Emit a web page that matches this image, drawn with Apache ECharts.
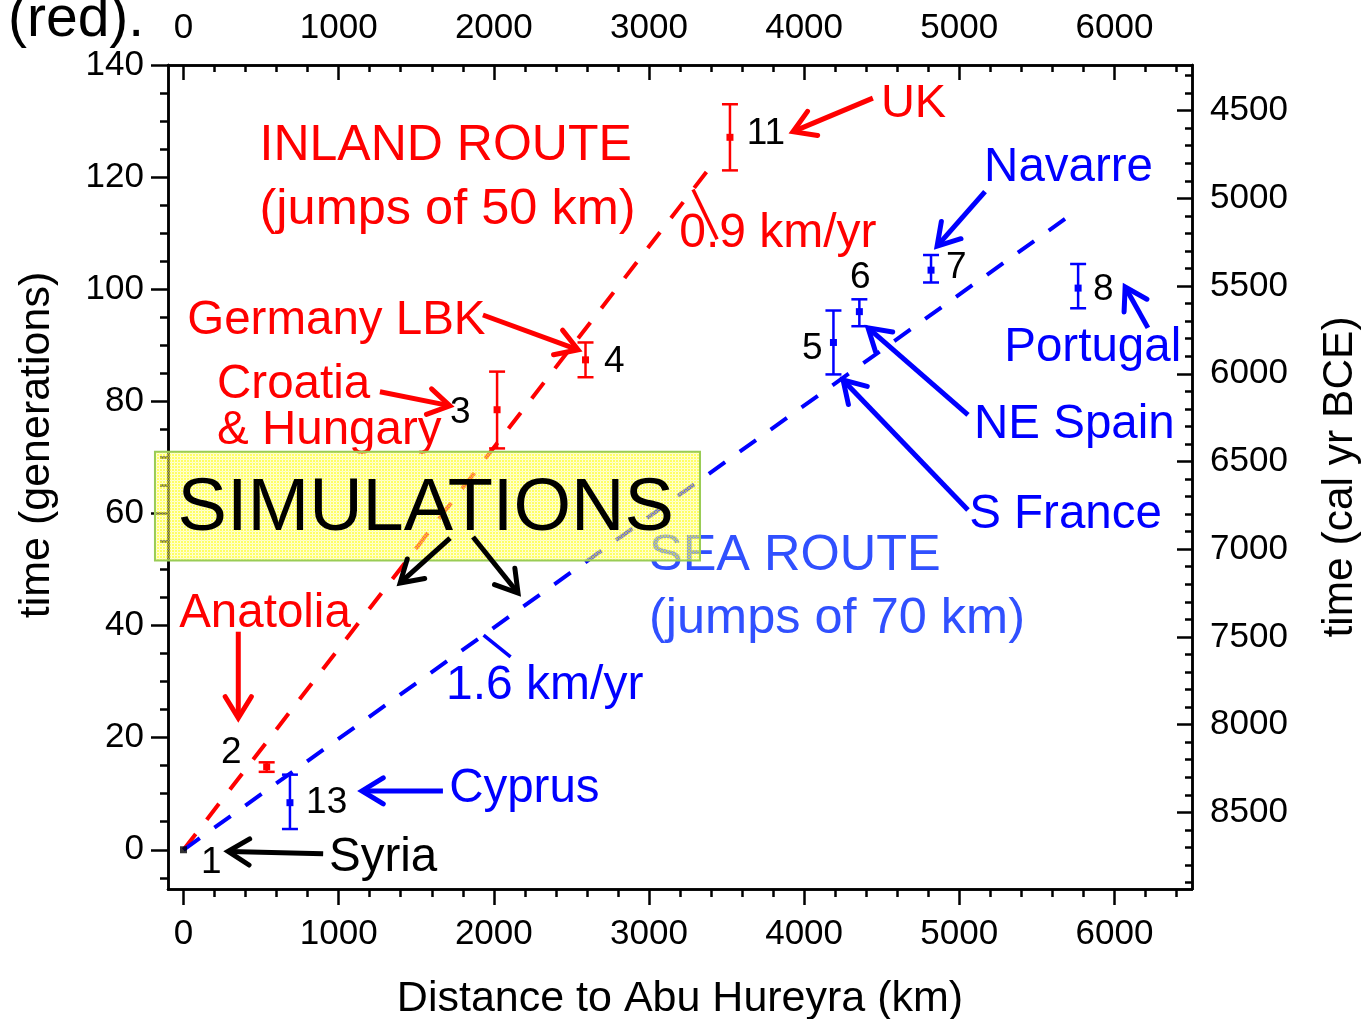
<!DOCTYPE html>
<html><head><meta charset="utf-8">
<script src="https://cdn.jsdelivr.net/npm/echarts@6/dist/echarts.min.js"></script>
<style>html,body{margin:0;padding:0;background:#fff}#c{width:1361px;height:1019px}</style>
</head><body><div id="c"></div>
<script>
const FONT = '"Liberation Sans", Arial, Helvetica, sans-serif';
const RED = '#ff0000', BLUE = '#0000ff', BLACK = '#000000', SEA = '#3050ff';

// axes
const xTickValues = [0, 1000, 2000, 3000, 4000, 5000, 6000];
const yTickValues = [0, 20, 40, 60, 80, 100, 120, 140];
const yearTickValues = [4500, 5000, 5500, 6000, 6500, 7000, 7500, 8000, 8500];
const xMinorValues = [];
for (let v = 0; v <= 6400; v += 200) if (v % 1000) xMinorValues.push(v);
const yMinorValues = [];
for (let v = -5; v <= 135; v += 5) if (v % 20) yMinorValues.push(v);
const yearMinorValues = [];
for (let v = 4300; v <= 8900; v += 100) if (v % 500) yearMinorValues.push(v);

// data: inland route (red) and sea route (blue) sites: [distance km, generations, low, high]
const inlandSites = [
  [536, 14.8, 13.9, 15.6],
  [2021, 78.5, 71.6, 85.3],
  [2591, 87.4, 84.3, 90.5],
  [3522, 127.1, 121.2, 133.0]
];
const seaSites = [
  [686, 8.4, 3.7, 13.4],
  [4189, 90.5, 84.8, 96.2],
  [4356, 96.0, 93.4, 98.2],
  [4818, 103.4, 101.2, 106.1],
  [5766, 100.2, 96.6, 104.5]
];
const originSite = [[0, 0]];
const inlandFit = [[0, 0], [3440, 123.4]];
const seaFit = [[0, 0], [5760, 114.1]];
const inlandSpeedTick = [[3284, 117.8], [3439, 108.9]];
const seaSpeedTick = [[1934, 38.3], [2108, 34.4]];

// annotation arrows: [x1, y1, x2(tip), y2(tip), colour index]
const arrowColors = [RED, BLUE, BLACK];
const arrows = [
  [4443, 134.1, 3928, 128.1, 0],
  [1930, 95.4, 2543, 89.2, 0],
  [1266, 81.7, 1717, 79.2, 0],
  [353, 38.9, 353, 23.5, 0],
  [1672, 10.5, 1150, 10.5, 1],
  [900, -0.7, 287, -0.3, 2],
  [5166, 117.4, 4857, 107.7, 1],
  [6216, 93.1, 6069, 100.4, 1],
  [5056, 77.6, 4412, 93.1, 1],
  [5056, 60.6, 4251, 83.8, 1],
  [1718, 55.6, 1396, 47.6, 2],
  [1866, 55.8, 2156, 45.8, 2]
];

// text annotations
const labelText = ['INLAND ROUTE', '(jumps of 50 km)', '0.9 km/yr', 'UK', '11', 'Germany LBK', '4',
  'Croatia', '& Hungary', '3', 'Anatolia', '2', '13', 'Cyprus', '1', 'Syria', '1.6 km/yr',
  'SEA ROUTE', '(jumps of 70 km)', 'Navarre', '6', '7', '5', '8', 'Portugal', 'NE Spain', 'S France'];
const labelPos = [[490, 126.1], [490, 114.6], [3195, 110.4], [4495, 133.6], [3630, 128.2], [24, 94.9], [2710, 87.6],
  [216, 83.5], [216, 75.3], [1718, 78.5], [-28, 42.6], [242, 17.8], [790, 8.9], [1712, 11.4], [113, -1.8], [938, -0.9], [1692, 29.8],
  [3000, 53.0], [3000, 41.6], [5160, 122.2], [4296, 102.5], [4915, 104.3], [3987, 89.9], [5862, 100.4], [5290, 90.1], [5095, 76.3], [5064, 60.3]];
const labelColor = [RED, RED, RED, RED, BLACK, RED, BLACK, RED, RED, BLACK, RED, BLACK, BLACK, BLUE, BLACK, BLACK, BLUE,
  SEA, SEA, BLUE, BLACK, BLACK, BLACK, BLACK, BLUE, BLUE, BLUE];
const labelSize = [50, 50.5, 48, 47, 37, 47.5, 37, 47.5, 47.5, 37, 47.5, 37, 37, 47.5, 37, 47.5, 48, 50.5, 50.5, 47.5, 37, 37, 37, 37, 47.5, 47.5, 47.5];

const simBox = [[-184, 71.0], [3329, 51.6]];
const simText = 'SIMULATIONS';
const simPos = [-38, 61.3];

const chart = echarts.init(document.getElementById('c'), null, {renderer: 'canvas'});

const lineW = 2.5;
const plain = function (v) { return String(v); };
function xAxisDef(position, ticks, len, inside, labels, labelMargin) {
  return {
    type: 'value', position: position, min: -100, max: 6500, offset: 0,
    axisLine: {show: true, onZero: false, lineStyle: {color: BLACK, width: lineW}},
    axisTick: {show: true, inside: inside, length: len, customValues: ticks, lineStyle: {color: BLACK, width: lineW}},
    axisLabel: labels ? {show: true, customValues: ticks, formatter: plain, margin: labelMargin, color: BLACK, fontSize: 35, fontFamily: FONT} : {show: false},
    splitLine: {show: false}
  };
}
function yAxisDef(position, min, max, inverse, ticks, len, inside, labels, labelMargin, extra) {
  return Object.assign({
    type: 'value', position: position, min: min, max: max, inverse: inverse, offset: 0,
    axisLine: {show: true, onZero: false, lineStyle: {color: BLACK, width: lineW}},
    axisTick: {show: true, inside: inside, length: len, customValues: ticks, lineStyle: {color: BLACK, width: lineW}},
    axisLabel: labels ? {show: true, customValues: ticks, formatter: plain, margin: labelMargin, color: BLACK, fontSize: 35, fontFamily: FONT} : {show: false},
    splitLine: {show: false}
  }, extra || {});
}

function errorBarSeries(data, color) {
  return {
    type: 'custom', xAxisIndex: 0, yAxisIndex: 0, z: 4, clip: false,
    data: data,
    renderItem: function (params, api) {
      const c = api.coord([api.value(0), api.value(1)]);
      const lo = api.coord([api.value(0), api.value(2)]);
      const hi = api.coord([api.value(0), api.value(3)]);
      const w = 8;
      const st = {stroke: color, lineWidth: 2.5};
      return {type: 'group', children: [
        {type: 'line', shape: {x1: c[0], y1: lo[1], x2: c[0], y2: hi[1]}, style: st},
        {type: 'line', shape: {x1: c[0] - w, y1: lo[1], x2: c[0] + w, y2: lo[1]}, style: st},
        {type: 'line', shape: {x1: c[0] - w, y1: hi[1], x2: c[0] + w, y2: hi[1]}, style: st},
        {type: 'rect', shape: {x: c[0] - 3.5, y: c[1] - 3.5, width: 7, height: 7}, style: {fill: color}}
      ]};
    }
  };
}

const dash = [20, 18];
const option = {
  backgroundColor: '#ffffff',
  animation: false,
  grid: {left: 168, right: 169, top: 65, bottom: 130, containLabel: false, outerBoundsMode: 'none'},
  xAxis: [
    Object.assign(xAxisDef('bottom', xTickValues, 16, false, true, 28), {
      name: 'Distance to Abu Hureyra (km)', nameLocation: 'middle', nameGap: 89,
      nameTextStyle: {color: BLACK, fontSize: 43, fontFamily: FONT}
    }),
    xAxisDef('bottom', xMinorValues, 8, false, false, 0),
    xAxisDef('top', xTickValues, 15, true, true, 19),
    xAxisDef('top', xMinorValues, 7, true, false, 0)
  ],
  yAxis: [
    yAxisDef('left', -7, 140, false, yTickValues, 17, false, true, 24),
    yAxisDef('left', -7, 140, false, yMinorValues, 8, false, false, 0),
    yAxisDef('right', 4240, 8937, true, yearTickValues, 15, true, true, 18, {
      name: 'time (cal yr BCE)', nameLocation: 'middle', nameRotate: 90, nameGap: 127,
      nameTextStyle: {color: BLACK, fontSize: 42.5, fontFamily: FONT}
    }),
    yAxisDef('right', 4240, 8937, true, yearMinorValues, 7, true, false, 0)
  ],
  series: [
    {type: 'line', xAxisIndex: 0, yAxisIndex: 0, data: inlandFit, symbol: 'none', z: 2,
      lineStyle: {color: RED, width: 4, type: dash, cap: 'butt'}},
    {type: 'line', xAxisIndex: 0, yAxisIndex: 0, data: seaFit, symbol: 'none', z: 2,
      lineStyle: {color: BLUE, width: 4, type: dash, cap: 'butt'}},
    {type: 'line', xAxisIndex: 0, yAxisIndex: 0, data: inlandSpeedTick, symbol: 'none', z: 2,
      lineStyle: {color: RED, width: 3.5}},
    {type: 'line', xAxisIndex: 0, yAxisIndex: 0, data: seaSpeedTick, symbol: 'none', z: 2,
      lineStyle: {color: BLUE, width: 3.5}},
    errorBarSeries(inlandSites, RED),
    errorBarSeries(seaSites, BLUE),
    {type: 'scatter', xAxisIndex: 0, yAxisIndex: 0, data: originSite, symbol: 'rect', symbolSize: 7, z: 5,
      itemStyle: {color: BLACK}},
    {
      type: 'custom', xAxisIndex: 0, yAxisIndex: 0, z: 20, clip: false,
      data: arrows,
      renderItem: function (params, api) {
        const p1 = api.coord([api.value(0), api.value(1)]);
        const p2 = api.coord([api.value(2), api.value(3)]);
        const col = arrowColors[api.value(4)];
        const ang = Math.atan2(p1[1] - p2[1], p1[0] - p2[0]);
        const L = 25, a = 0.55;
        const h1 = [p2[0] + L * Math.cos(ang + a), p2[1] + L * Math.sin(ang + a)];
        const h2 = [p2[0] + L * Math.cos(ang - a), p2[1] + L * Math.sin(ang - a)];
        const tipIn = [p2[0] + 2 * Math.cos(ang), p2[1] + 2 * Math.sin(ang)];
        return {type: 'group', children: [
          {type: 'line', shape: {x1: p1[0], y1: p1[1], x2: tipIn[0], y2: tipIn[1]}, style: {stroke: col, lineWidth: 5}},
          {type: 'polyline', shape: {points: [h1, p2, h2]}, style: {stroke: col, lineWidth: 5, fill: null, lineJoin: 'miter', lineCap: 'round'}}
        ]};
      }
    }
  ]
};
chart.setOption(option);

const toPx = function (p) { return chart.convertToPixel({seriesIndex: 0}, p); };

// pattern for the simulations box
const pc = document.createElement('canvas');
pc.width = 3; pc.height = 3;
const pctx = pc.getContext('2d');
pctx.fillStyle = 'rgba(255,255,40,0.72)';
pctx.fillRect(0, 0, 3, 3);
pctx.clearRect(0, 0, 3, 1);
pctx.clearRect(0, 0, 1, 3);
pctx.fillStyle = 'rgba(255,255,150,0.45)';
pctx.fillRect(0, 0, 3, 1);
pctx.fillRect(0, 0, 1, 3);

const DY = 3;
const graphics = [];
for (let i = 0; i < labelText.length; i++) {
  const p = toPx(labelPos[i]);
  graphics.push({
    type: 'text', x: p[0], y: p[1] + DY, z: 5,
    style: {text: labelText[i], fill: labelColor[i], font: labelSize[i] + 'px ' + FONT, textAlign: 'left', textVerticalAlign: 'middle'}
  });
}
const b0 = toPx(simBox[0]), b1 = toPx(simBox[1]);
graphics.push({
  type: 'rect', z: 10,
  shape: {x: b0[0], y: b0[1], width: b1[0] - b0[0], height: b1[1] - b0[1]},
  style: {fill: {image: pc, repeat: 'repeat'}, stroke: '#99cc55', lineWidth: 2}
});
const sp = toPx(simPos);
graphics.push({
  type: 'text', x: sp[0], y: sp[1] + DY, z: 11,
  style: {text: simText, fill: BLACK, font: '74px ' + FONT, textAlign: 'left', textVerticalAlign: 'middle'}
});
graphics.push({
  type: 'text', x: 8, y: 20, z: 5,
  style: {text: '(red).', fill: BLACK, font: '57px ' + FONT, textAlign: 'left', textVerticalAlign: 'middle'}
});
// left axis title (placed off-centre as in the original)
graphics.push({
  type: 'text', x: 37, y: 445, rotation: Math.PI / 2, z: 5,
  style: {text: 'time (generations)', fill: BLACK, font: '43px ' + FONT, textAlign: 'center', textVerticalAlign: 'middle'}
});
chart.setOption({graphic: graphics});
</script>
</body></html>
